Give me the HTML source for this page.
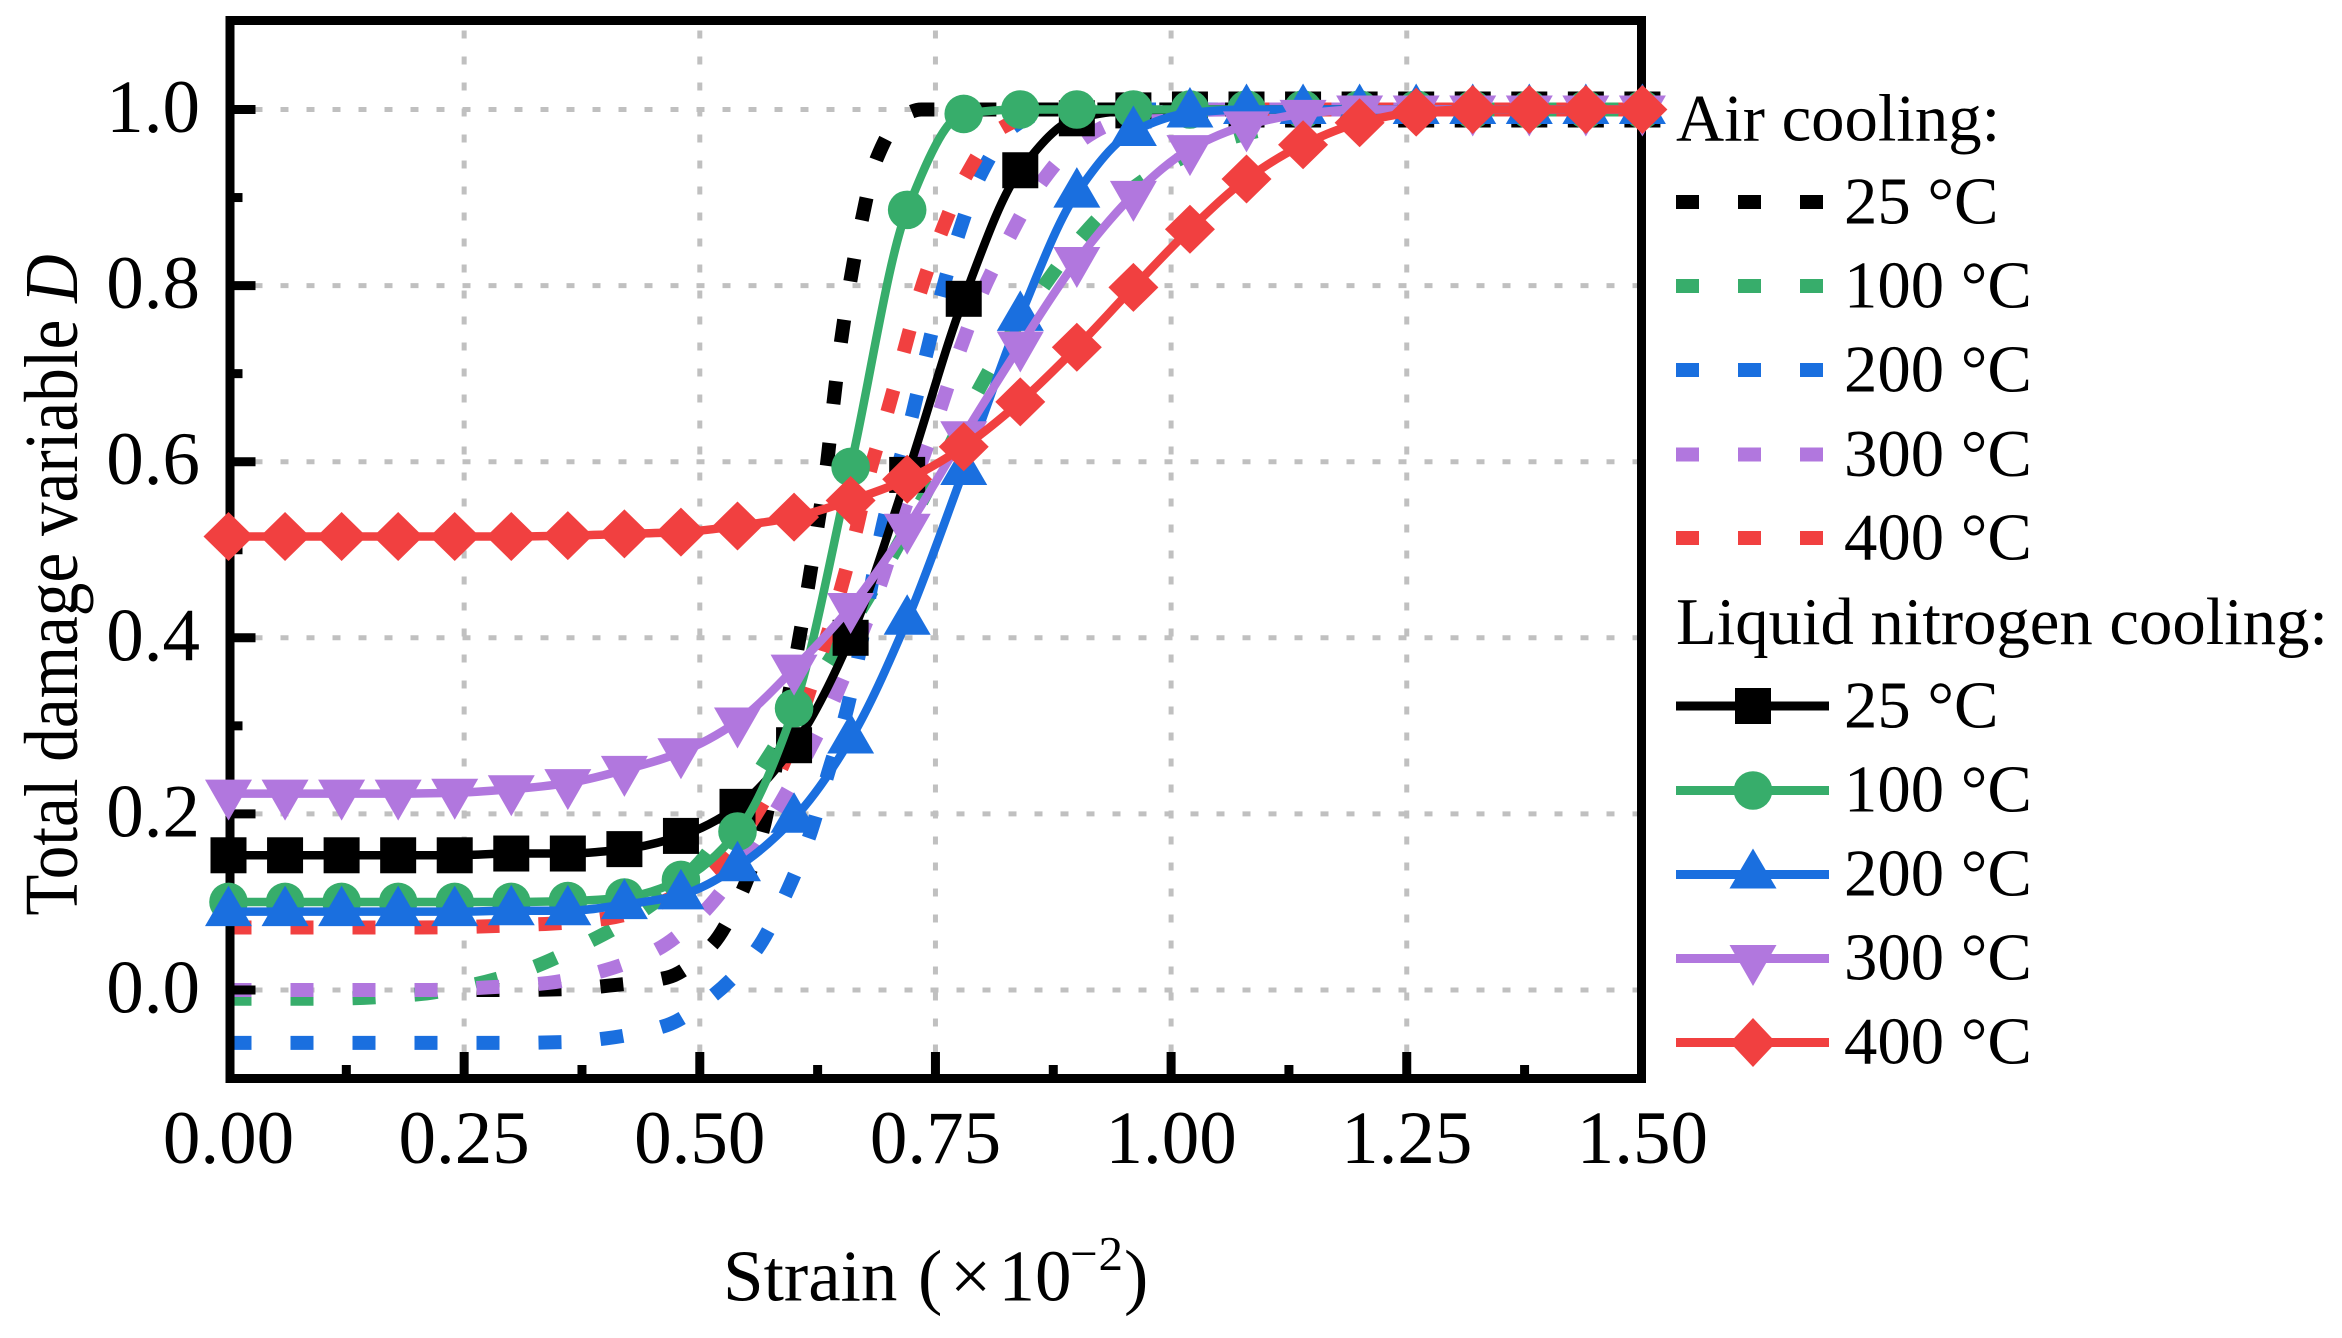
<!DOCTYPE html>
<html lang="en">
<head>
<meta charset="utf-8">
<title>Total damage variable vs strain</title>
<style>
html,body{margin:0;padding:0;background:#fff;}
svg{display:block;}
text{font-family:"Liberation Serif","Times New Roman",serif;fill:#000;}
</style>
</head>
<body>
<svg id="chart" xmlns="http://www.w3.org/2000/svg" width="2342" height="1338" viewBox="0 0 2342 1338">
  <rect x="0" y="0" width="2342" height="1338" fill="#ffffff"/>
  <g id="grid"></g>
  <g id="air-series"></g>
  <g id="frame"></g>
  <g id="ln-series"></g>
  <g id="tick-labels"></g>

  <text transform="translate(77,585) rotate(-90) scale(0.884,1)" text-anchor="middle" font-size="76">Total damage variable <tspan font-style="italic">D</tspan></text>
  <text y="1300.7" font-size="73"><tspan x="723">Strain</tspan><tspan x="918">(</tspan><tspan x="950">×</tspan><tspan x="998.5">10</tspan><tspan x="1070" y="1270" font-size="49">−</tspan><tspan x="1098.5" y="1270" font-size="49">2</tspan><tspan x="1124" y="1300.7" font-size="73">)</tspan></text>

  <g id="legend" font-size="66.7">
    <text x="1676" y="140.5">Air cooling:</text>
    <g><line x1="1676" x2="1829" y1="202" y2="202" stroke="#000000" stroke-width="14" stroke-dasharray="23 39"/><text x="1844" y="223.5">25 °C</text></g>
    <g><line x1="1676" x2="1829" y1="286" y2="286" stroke="#37ad6b" stroke-width="14" stroke-dasharray="23 39"/><text x="1844" y="307.5">100 °C</text></g>
    <g><line x1="1676" x2="1829" y1="370" y2="370" stroke="#1a6fdf" stroke-width="14" stroke-dasharray="23 39"/><text x="1844" y="391.5">200 °C</text></g>
    <g><line x1="1676" x2="1829" y1="454.5" y2="454.5" stroke="#b177de" stroke-width="14" stroke-dasharray="23 39"/><text x="1844" y="476">300 °C</text></g>
    <g><line x1="1676" x2="1829" y1="538" y2="538" stroke="#f14040" stroke-width="14" stroke-dasharray="23 39"/><text x="1844" y="559.5">400 °C</text></g>
    <text x="1676" y="644">Liquid nitrogen cooling:</text>
    <g><line x1="1676" x2="1829" y1="706" y2="706" stroke="#000000" stroke-width="9"/><rect x="1735" y="688" width="36" height="36" fill="#000000"/><text x="1844" y="727.5">25 °C</text></g>
    <g><line x1="1676" x2="1829" y1="790.5" y2="790.5" stroke="#37ad6b" stroke-width="9"/><circle cx="1753" cy="790.5" r="19.3" fill="#37ad6b"/><text x="1844" y="811.5">100 °C</text></g>
    <g><line x1="1676" x2="1829" y1="874.5" y2="874.5" stroke="#1a6fdf" stroke-width="9"/><path d="M1753 848.5L1776.5 888.5L1729.5 888.5Z" fill="#1a6fdf"/><text x="1844" y="895.5">200 °C</text></g>
    <g><line x1="1676" x2="1829" y1="958.5" y2="958.5" stroke="#b177de" stroke-width="9"/><path d="M1753 986L1776.5 945L1729.5 945Z" fill="#b177de"/><text x="1844" y="979.5">300 °C</text></g>
    <g><line x1="1676" x2="1829" y1="1042.5" y2="1042.5" stroke="#f14040" stroke-width="9"/><path d="M1753 1018L1776 1042.5L1753 1067L1730 1042.5Z" fill="#f14040"/><text x="1844" y="1063.5">400 °C</text></g>
  </g>
</svg>

<script>
// Axis ticks
const xMajorTicks = [0, 0.25, 0.5, 0.75, 1.0, 1.25, 1.5];
const xMajorLabels = ["0.00", "0.25", "0.50", "0.75", "1.00", "1.25", "1.50"];
const xMinorTicks = [0.125, 0.375, 0.625, 0.875, 1.125, 1.375];
const yMajorTicks = [0, 0.2, 0.4, 0.6, 0.8, 1.0];
const yMajorLabels = ["0.0", "0.2", "0.4", "0.6", "0.8", "1.0"];
const yMinorTicks = [0.1, 0.3, 0.5, 0.7, 0.9];

// Liquid nitrogen cooling: shared strain values at the markers
const lnStrain = [0,0.06,0.12,0.18,0.24,0.30,0.36,0.42,0.48,0.54,0.60,0.66,0.72,0.78,0.84,0.90,0.96,1.02,1.08,1.14,1.20,1.26,1.32,1.38,1.44,1.50];
const lnDamage25 = [0.153,0.153,0.153,0.153,0.153,0.155,0.155,0.160,0.175,0.208,0.278,0.400,0.585,0.785,0.931,0.990,0.999,1,1,1,1,1,1,1,1,1];
const lnDamage100 = [0.100,0.100,0.100,0.100,0.100,0.100,0.101,0.105,0.125,0.180,0.320,0.594,0.886,0.995,1,1,1,1,1,1,1,1,1,1,1,1];
const lnDamage200 = [0.089,0.089,0.089,0.089,0.089,0.090,0.090,0.097,0.108,0.140,0.195,0.285,0.420,0.590,0.765,0.905,0.975,0.996,1,1,1,1,1,1,1,1];
const lnDamage300 = [0.223,0.223,0.223,0.223,0.224,0.228,0.235,0.250,0.270,0.305,0.365,0.435,0.525,0.630,0.732,0.828,0.903,0.955,0.982,0.995,1,1,1,1,1,1];
const lnDamage400 = [0.515,0.515,0.515,0.515,0.515,0.515,0.516,0.518,0.520,0.527,0.537,0.556,0.580,0.617,0.668,0.730,0.798,0.864,0.921,0.960,0.985,0.997,1,1,1,1];

// Air cooling curves
const airStrain25 = [0,0.10,0.20,0.30,0.36,0.404,0.465,0.512,0.545,0.567,0.590,0.604,0.615,0.625,0.635,0.642,0.650,0.660,0.672,0.688,0.716,0.735,0.80,1.50];
const airDamage25 = [0,0,0,0,0.001,0.005,0.014,0.050,0.112,0.182,0.310,0.390,0.459,0.527,0.598,0.668,0.738,0.807,0.875,0.945,0.993,1,1,1];
const airStrain100 = [0,0.10,0.20,0.255,0.316,0.377,0.434,0.50,0.559,0.629,0.697,0.75,0.791,0.822,0.862,0.899,0.94,0.994,1.052,1.11,1.167,1.25,1.50];
const airDamage100 = [-0.010,-0.010,-0.005,0.005,0.023,0.052,0.086,0.145,0.242,0.360,0.480,0.585,0.672,0.731,0.795,0.848,0.894,0.935,0.964,0.980,0.992,1,1];
const airStrain200 = [0,0.10,0.20,0.30,0.36,0.40,0.465,0.512,0.561,0.593,0.617,0.636,0.655,0.669,0.693,0.726,0.741,0.757,0.775,0.797,0.831,0.86,0.90,1.50];
const airDamage200 = [-0.060,-0.060,-0.060,-0.060,-0.059,-0.055,-0.040,-0.008,0.047,0.113,0.177,0.246,0.314,0.382,0.522,0.656,0.725,0.793,0.860,0.924,0.979,0.995,1,1];
const airStrain300 = [0,0.10,0.208,0.275,0.339,0.398,0.453,0.50,0.578,0.609,0.64,0.663,0.689,0.72,0.753,0.774,0.799,0.826,0.857,0.896,0.94,1.0,1.06,1.50];
const airDamage300 = [0,0,0,0.003,0.008,0.022,0.045,0.084,0.199,0.258,0.324,0.382,0.453,0.555,0.653,0.721,0.791,0.850,0.909,0.958,0.985,0.998,1,1];
const airStrain400 = [0,0.10,0.20,0.336,0.40,0.458,0.513,0.583,0.629,0.649,0.665,0.68,0.698,0.716,0.734,0.756,0.782,0.817,0.875,0.90,1.50];
const airDamage400 = [0.071,0.071,0.071,0.075,0.081,0.099,0.136,0.244,0.382,0.453,0.518,0.587,0.653,0.723,0.793,0.860,0.924,0.977,0.999,1,1];

const NS = 'http://www.w3.org/2000/svg';
const xScale = v => 228.5 + 942.6 * v;
const yScale = v => 990 - 880.5 * v;
const plot = { left: 228.5, right: 1642, top: 21, bottom: 1078.5 };

function make(tag, attrs, parent) {
  const el = document.createElementNS(NS, tag);
  for (const k in attrs) el.setAttribute(k, attrs[k]);
  parent.appendChild(el);
  return el;
}

// Monotone cubic path through the data points
function curvePath(xs, ys) {
  const px = xs.map(xScale), py = ys.map(yScale), n = px.length;
  const d = [], m = new Array(n);
  for (let i = 0; i < n - 1; i++) d.push((py[i + 1] - py[i]) / (px[i + 1] - px[i]));
  m[0] = d[0];
  m[n - 1] = d[n - 2];
  for (let i = 1; i < n - 1; i++) {
    if (d[i - 1] * d[i] <= 0) { m[i] = 0; continue; }
    const h0 = px[i] - px[i - 1], h1 = px[i + 1] - px[i];
    const w1 = 2 * h1 + h0, w2 = h1 + 2 * h0;
    m[i] = (w1 + w2) / (w1 / d[i - 1] + w2 / d[i]);
  }
  let path = 'M' + px[0].toFixed(2) + ' ' + py[0].toFixed(2);
  for (let i = 0; i < n - 1; i++) {
    const h = (px[i + 1] - px[i]) / 3;
    path += 'C' + (px[i] + h).toFixed(2) + ' ' + (py[i] + m[i] * h).toFixed(2) + ' ' +
      (px[i + 1] - h).toFixed(2) + ' ' + (py[i + 1] - m[i + 1] * h).toFixed(2) + ' ' +
      px[i + 1].toFixed(2) + ' ' + py[i + 1].toFixed(2);
  }
  return path;
}

// Grid lines
const gridGroup = document.getElementById('grid');
yMajorTicks.forEach(v => {
  const gl = make('line', { x1: plot.left, x2: plot.right, y1: yScale(v), y2: yScale(v), stroke: '#c0c0c0', 'stroke-width': 5, 'stroke-dasharray': '8 18' }, gridGroup);
  
  
});
xMajorTicks.slice(1, -1).forEach(v => {
  const gl = make('line', { x1: xScale(v), x2: xScale(v), y1: plot.bottom, y2: plot.top, stroke: '#c0c0c0', 'stroke-width': 5, 'stroke-dasharray': '8 18' }, gridGroup);
  
  
});

// Air cooling dashed curves
const airGroup = document.getElementById('air-series');
function drawAir(xs, ys, color, name) {
  const p = make('path', { d: curvePath(xs, ys), fill: 'none', stroke: color, 'stroke-width': 14, 'stroke-dasharray': '23 39' }, airGroup);
  
  
}
drawAir(airStrain25, airDamage25, '#000000', 'air-25c-curve');
drawAir(airStrain100, airDamage100, '#37ad6b', 'air-100c-curve');
drawAir(airStrain200, airDamage200, '#1a6fdf', 'air-200c-curve');
drawAir(airStrain300, airDamage300, '#b177de', 'air-300c-curve');
drawAir(airStrain400, airDamage400, '#f14040', 'air-400c-curve');

// Frame and ticks
const frameGroup = document.getElementById('frame');
const frameRect = make('rect', { x: 230, y: 20.5, width: 1411.5, height: 1058, fill: 'none', stroke: '#000000', 'stroke-width': 9 }, frameGroup);


function yTick(v, len) {
  const t = make('line', { x1: 230, x2: 234.5 + len, y1: yScale(v), y2: yScale(v), stroke: '#000000', 'stroke-width': 9 }, frameGroup);
  
  
}
function xTick(v, len) {
  const t = make('line', { x1: xScale(v), x2: xScale(v), y1: 1078.5, y2: 1074 - len, stroke: '#000000', 'stroke-width': 9 }, frameGroup);
  
  
}
yMajorTicks.forEach(v => yTick(v, 21));
yMinorTicks.forEach(v => yTick(v, 8));
xMajorTicks.slice(1, -1).forEach(v => xTick(v, 22));
xMinorTicks.forEach(v => xTick(v, 9));

// Tick labels
const labelGroup = document.getElementById('tick-labels');
yMajorTicks.forEach((v, i) => {
  const t = make('text', { x: 200, y: yScale(v) + 22.5, 'text-anchor': 'end', 'font-size': 75 }, labelGroup);
  
  
  t.textContent = yMajorLabels[i];
});
xMajorTicks.forEach((v, i) => {
  const t = make('text', { x: xScale(v), y: 1163, 'text-anchor': 'middle', 'font-size': 75 }, labelGroup);
  
  
  t.textContent = xMajorLabels[i];
});

// Liquid nitrogen solid curves with markers
const lnGroup = document.getElementById('ln-series');
function drawMarker(kind, cx, cy, color, parent) {
  let m;
  if (kind === 'square') {
    m = make('rect', { x: cx - 18, y: cy - 18, width: 36, height: 36, fill: color }, parent);
  } else if (kind === 'circle') {
    m = make('circle', { cx: cx, cy: cy, r: 19.3, fill: color }, parent);
  } else if (kind === 'up') {
    m = make('path', { d: 'M' + cx + ' ' + (cy - 26) + 'L' + (cx + 23.5) + ' ' + (cy + 14.5) + 'L' + (cx - 23.5) + ' ' + (cy + 14.5) + 'Z', fill: color }, parent);
  } else if (kind === 'down') {
    m = make('path', { d: 'M' + cx + ' ' + (cy + 27) + 'L' + (cx + 23.5) + ' ' + (cy - 14) + 'L' + (cx - 23.5) + ' ' + (cy - 14) + 'Z', fill: color }, parent);
  } else {
    m = make('path', { d: 'M' + cx + ' ' + (cy - 24.5) + 'L' + (cx + 25) + ' ' + cy + 'L' + cx + ' ' + (cy + 24.5) + 'L' + (cx - 25) + ' ' + cy + 'Z', fill: color }, parent);
  }
  
  
}
function drawLN(values, color, kind, name) {
  const g = make('g', {}, lnGroup);
  
  
  make('path', { d: curvePath(lnStrain, values), fill: 'none', stroke: color, 'stroke-width': 8.5 }, g);
  values.forEach((v, i) => drawMarker(kind, xScale(lnStrain[i]), yScale(v), color, g));
}
drawLN(lnDamage25, '#000000', 'square', 'ln-25c-series');
drawLN(lnDamage100, '#37ad6b', 'circle', 'ln-100c-series');
drawLN(lnDamage200, '#1a6fdf', 'up', 'ln-200c-series');
drawLN(lnDamage300, '#b177de', 'down', 'ln-300c-series');
drawLN(lnDamage400, '#f14040', 'diamond', 'ln-400c-series');
</script>
</body>
</html>
